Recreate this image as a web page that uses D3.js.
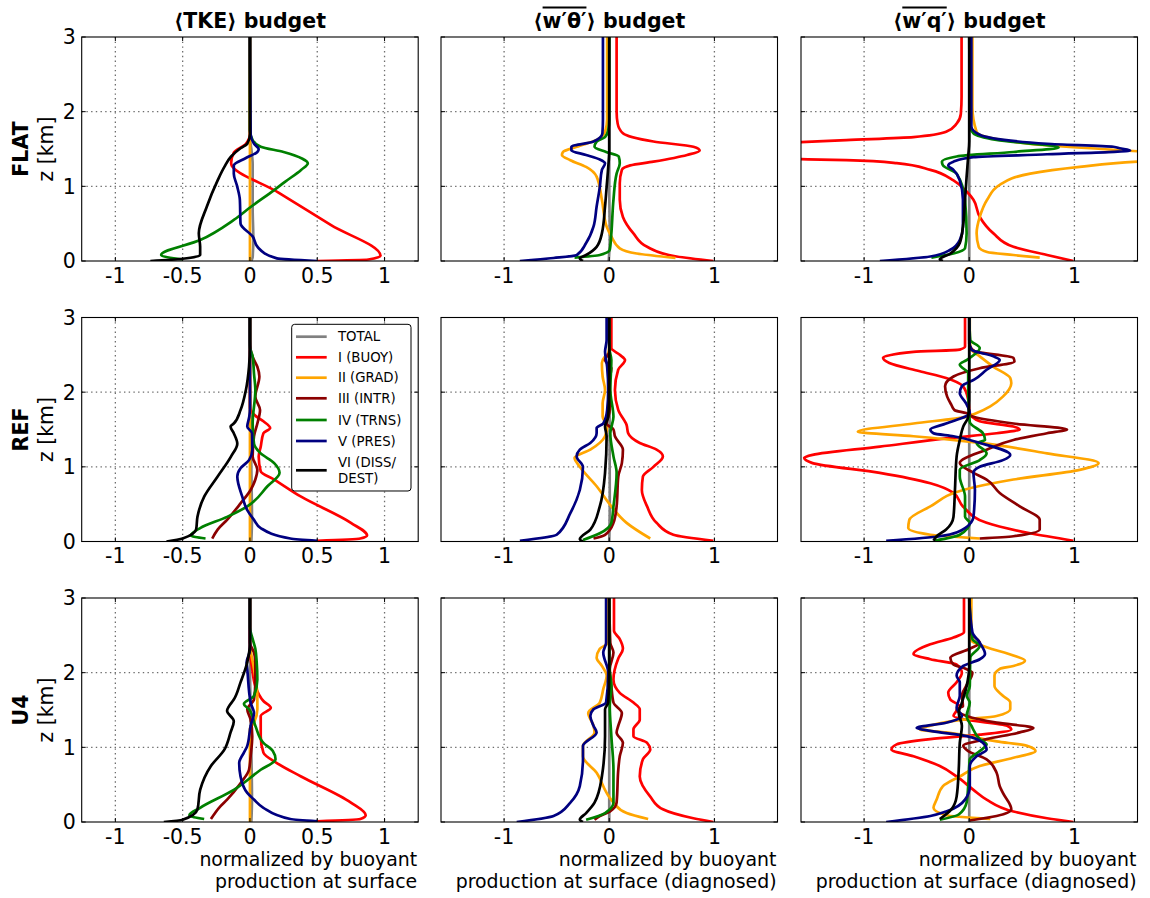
<!DOCTYPE html>
<html>
<head>
<meta charset="utf-8">
<script src="https://cdn.jsdelivr.net/npm/d3@7"></script>
<style>
  html, body { margin: 0; padding: 0; background: #fff; }
  svg { display: block; font-family: "DejaVu Sans", sans-serif; }
</style>
</head>
<body>
<svg id="chart" width="1150" height="898"></svg>
<script>
// ---------- series definitions ----------
const seriesKeys = ["total", "buoy", "grad", "intr", "trns", "pres", "diss"];
const seriesLabels = ["TOTAL", "I (BUOY)", "II (GRAD)", "III (INTR)", "IV (TRNS)", "V (PRES)", "VI (DISS/|DEST)"];
const seriesColors = ["#808080", "#ff0000", "#ffa500", "#8b0000", "#008000", "#000080", "#000000"];

// ---------- axis ticks ----------
const zTicks = [0, 1, 2, 3];
const zTickLabels = ["0", "1", "2", "3"];
const tkeTicks = [-1, -0.5, 0, 0.5, 1];
const tkeTickLabels = ["-1", "-0.5", "0", "0.5", "1"];
const fluxTicks = [-1, 0, 1];
const fluxTickLabels = ["-1", "0", "1"];
const tkeDomain = [-1.25, 1.25];
const fluxDomain = [-1.6, 1.6];
const zDomain = [0, 3];

const rowNames = ["FLAT", "REF", "U4"];

// ---------- profiles: [normalized value, z in km] ----------
// FLAT, TKE budget
const flatTkeTotal = [[0.01,0],[0.02,0.05],[0.025,0.3],[0.02,0.7],[0.02,1.0],[0.02,1.3],[0.01,1.5],[0,1.65],[0,3]];
const flatTkeBuoy = [[0.5,0],[0.88,0.02],[0.97,0.07],[0.603,0.48],[0.209,0.92],[-0.14,1.31],[-0.12,1.45],[-0.03,1.57],[0,1.7],[0,3]];
const flatTkeGrad = [[0,0],[0,3]];
const flatTkeTrns = [[-0.5,0.02],[-0.66,0.08],[-0.37,0.28],[-0.12,0.55],[0.01,0.73],[0.18,0.95],[0.26,1.06],[0.38,1.22],[0.43,1.31],[0.39,1.37],[0.25,1.46],[0.08,1.53],[0.02,1.62],[0,1.75],[0,3]];
const flatTkePres = [[0.5,0],[0.2,0.035],[0.06,0.18],[0.02,0.33],[-0.07,0.5],[-0.075,0.82],[-0.095,1.0],[-0.12,1.17],[-0.12,1.28],[-0.03,1.38],[0.055,1.46],[0.065,1.5],[0.03,1.57],[0.005,1.7],[0,3]];
const flatTkeDiss = [[-0.74,0],[-0.5,0.03],[-0.37,0.08],[-0.37,0.19],[-0.38,0.37],[-0.32,0.73],[-0.24,1.08],[-0.19,1.26],[-0.14,1.4],[-0.07,1.51],[-0.02,1.57],[0,1.7],[0,3]];

// FLAT, w'theta' budget
const flatWtTotal = [[-0.005,0],[0.005,0.3],[0,1],[0,3]];
const flatWtBuoy = [[0.99,0],[0.64,0.06],[0.36,0.19],[0.23,0.37],[0.13,0.59],[0.1,0.82],[0.1,1.04],[0.12,1.22],[0.2,1.28],[0.42,1.33],[0.74,1.42],[0.86,1.48],[0.8,1.53],[0.42,1.6],[0.13,1.71],[0.08,1.84],[0.07,2.0],[0.07,3]];
const flatWtGrad = [[0.63,0.04],[0.26,0.1],[0.1,0.17],[0.02,0.33],[-0.025,0.46],[-0.07,0.82],[-0.12,1.13],[-0.22,1.26],[-0.37,1.35],[-0.45,1.42],[-0.44,1.46],[-0.31,1.53],[-0.12,1.62],[-0.04,1.73],[-0.02,1.9],[-0.02,3]];
const flatWtTrns = [[-0.33,0.045],[-0.09,0.08],[0.005,0.15],[0.02,0.37],[0.04,0.82],[0.07,1.17],[0.1,1.31],[0.09,1.4],[-0.03,1.46],[-0.14,1.53],[-0.12,1.6],[-0.04,1.66],[-0.01,1.75],[0,1.9],[0,3]];
const flatWtPres = [[-0.85,0],[-0.53,0.04],[-0.31,0.08],[-0.22,0.24],[-0.15,0.46],[-0.12,0.73],[-0.09,0.99],[-0.07,1.22],[-0.04,1.31],[-0.09,1.36],[-0.22,1.42],[-0.36,1.48],[-0.36,1.53],[-0.15,1.6],[-0.065,1.71],[-0.06,1.9],[-0.06,3]];
const flatWtDiss = [[-0.25,0],[-0.28,0.035],[-0.22,0.08],[-0.12,0.19],[-0.07,0.37],[-0.04,0.73],[-0.025,0.99],[-0.01,1.25],[0,1.48],[0,3]];

// FLAT, w'q' budget
const flatWqTotal = [[0,0],[0,3]];
const flatWqBuoy = [[0.99,0],[0.74,0.08],[0.42,0.19],[0.23,0.37],[0.1,0.59],[0.04,0.82],[-0.025,0.93],[-0.15,1.08],[-0.37,1.22],[-0.69,1.31],[-1.17,1.35],[-1.8,1.37],[-3,1.42],[-3,1.52],[-1.8,1.58],[-1.17,1.62],[-0.53,1.66],[-0.22,1.73],[-0.12,1.84],[-0.08,1.97],[-0.073,2.2],[-0.073,3]];
const flatWqGrad = [[0.67,0.045],[0.42,0.08],[0.17,0.12],[0.09,0.19],[0.07,0.37],[0.1,0.59],[0.17,0.82],[0.29,1.02],[0.58,1.17],[1.05,1.26],[1.6,1.33],[2.5,1.38],[2.5,1.44],[1.6,1.47],[1.37,1.49],[0.74,1.55],[0.17,1.66],[0.07,1.73],[0.03,2.06],[0.03,3]];
const flatWqTrns = [[-0.36,0.045],[-0.15,0.1],[-0.04,0.17],[-0.025,0.37],[-0.04,0.82],[-0.12,1.17],[-0.25,1.28],[-0.26,1.33],[-0.12,1.4],[0.42,1.46],[0.85,1.52],[0.26,1.62],[0.04,1.71],[0.01,1.8],[0,3]];
const flatWqPres = [[-0.85,0],[-0.37,0.06],[-0.18,0.15],[-0.09,0.28],[-0.06,0.46],[-0.06,0.82],[-0.09,1.08],[-0.15,1.22],[-0.2,1.28],[-0.15,1.33],[0.04,1.39],[0.74,1.43],[1.53,1.48],[1.43,1.51],[1.37,1.53],[0.74,1.57],[0.1,1.69],[0.02,1.8],[0.02,3]];
const flatWqDiss = [[-0.25,0],[-0.28,0.02],[-0.18,0.1],[-0.09,0.24],[-0.06,0.46],[-0.04,0.82],[-0.025,1.13],[-0.01,1.4],[0,1.6],[0,3]];

// REF, TKE budget
const refTkeTotal = [[0.01,0],[0.015,0.3],[0.01,1],[0.005,1.8],[0,2.5],[0,3]];
const refTkeBuoy = [[0.5,0.01],[0.82,0.04],[0.87,0.08],[0.75,0.25],[0.38,0.6],[0.18,0.83],[0.08,0.94],[0.065,1.14],[0.08,1.27],[0.1,1.45],[0.15,1.52],[0.1,1.61],[0.03,1.7],[0,1.8],[0,3]];
const refTkeGrad = [[0,0],[0,3]];
const refTkeIntr = [[-0.28,0.04],[-0.24,0.16],[-0.17,0.29],[-0.07,0.51],[0.005,0.69],[0.04,0.83],[0.055,0.96],[0.02,1.14],[0.03,1.41],[0.055,1.58],[0.075,1.76],[0.04,1.94],[0.07,2.21],[0.055,2.34],[0.02,2.47],[0.005,2.57],[0,2.7],[0,3]];
const refTkeTrns = [[-0.33,0.04],[-0.44,0.08],[-0.37,0.18],[-0.17,0.33],[-0.02,0.47],[0.13,0.74],[0.22,0.92],[0.18,1.05],[0.08,1.18],[0.03,1.31],[0.02,1.58],[0.04,2.03],[0.03,2.25],[0.02,2.48],[0,2.6],[0,3]];
const refTkePres = [[0.5,0.01],[0.3,0.04],[0.08,0.18],[0.03,0.29],[-0.02,0.42],[-0.057,0.6],[-0.094,0.87],[-0.07,0.98],[-0.007,1.09],[0.017,1.23],[0.015,1.45],[-0.02,1.54],[-0.005,1.67],[0,1.8],[0,3]];
const refTkeDiss = [[-0.62,0],[-0.5,0.04],[-0.4,0.16],[-0.39,0.33],[-0.34,0.6],[-0.24,0.87],[-0.14,1.14],[-0.094,1.31],[-0.12,1.45],[-0.144,1.54],[-0.12,1.58],[-0.07,1.76],[-0.03,2.03],[-0.007,2.34],[0,2.6],[0,3]];

// REF, w'theta' budget
const refWtTotal = [[0,0],[0.005,0.5],[0,3]];
const refWtBuoy = [[0.99,0.01],[0.61,0.09],[0.45,0.25],[0.36,0.47],[0.31,0.69],[0.32,0.87],[0.42,1.0],[0.51,1.14],[0.45,1.23],[0.29,1.32],[0.18,1.45],[0.165,1.56],[0.086,1.76],[0.054,2.03],[0.085,2.3],[0.15,2.43],[0.1,2.5],[0.02,2.59],[0.02,3]];
const refWtGrad = [[0.39,0.04],[0.165,0.25],[0.02,0.47],[-0.12,0.74],[-0.28,1.0],[-0.33,1.12],[-0.18,1.23],[-0.04,1.41],[-0.02,1.54],[-0.063,1.67],[-0.063,1.85],[-0.04,2.03],[-0.063,2.21],[-0.07,2.39],[-0.04,2.48],[-0.01,2.52],[0,2.6],[0,3]];
const refWtIntr = [[-0.15,0.04],[-0.04,0.09],[0.04,0.25],[0.07,0.47],[0.086,0.87],[0.12,1.05],[0.13,1.23],[0.054,1.41],[0.04,1.5],[-0.025,1.58],[0.005,1.76],[0.005,2.17],[0.02,2.32],[-0.04,2.43],[0.005,2.55],[0,2.7],[0,3]];
const refWtTrns = [[-0.25,0.02],[-0.09,0.11],[0.02,0.25],[0.04,0.47],[0.07,0.92],[0.04,1.14],[0.01,1.45],[0.04,1.67],[0.01,2.03],[0.02,2.43],[0,2.6],[0,3]];
const refWtPres = [[-0.85,0.01],[-0.5,0.09],[-0.37,0.38],[-0.28,0.69],[-0.25,1.0],[-0.31,1.14],[-0.28,1.23],[-0.18,1.32],[-0.12,1.45],[-0.12,1.52],[-0.057,1.58],[-0.02,1.76],[-0.01,2.03],[-0.02,2.34],[-0.04,2.54],[-0.025,2.7],[-0.025,3]];
const refWtDiss = [[-0.25,0],[-0.28,0.03],[-0.18,0.16],[-0.09,0.47],[-0.04,0.92],[-0.025,1.41],[-0.04,1.54],[-0.01,1.67],[0,2.03],[0,3]];

// REF, w'q' budget
const refWqTotal = [[0,0],[0,3]];
const refWqBuoy = [[0.99,0.01],[0.58,0.11],[0.165,0.25],[-0.06,0.47],[-0.15,0.65],[-0.37,0.78],[-0.85,0.92],[-1.49,1.05],[-1.57,1.12],[-1.49,1.16],[-0.85,1.27],[-0.22,1.38],[0.26,1.45],[0.48,1.5],[0.42,1.54],[0.1,1.61],[0.005,1.72],[-0.01,1.9],[-0.06,2.08],[-0.22,2.19],[-0.47,2.28],[-0.76,2.39],[-0.82,2.46],[-0.53,2.54],[-0.09,2.57],[-0.04,2.61],[-0.04,3]];
const refWqGrad = [[0.1,0.04],[-0.37,0.09],[-0.58,0.18],[-0.57,0.29],[-0.37,0.47],[-0.057,0.69],[0.42,0.83],[1.05,0.96],[1.23,1.05],[0.74,1.18],[0.1,1.32],[-0.53,1.41],[-1.06,1.47],[-0.53,1.58],[-0.03,1.67],[0.07,1.72],[0.2,1.81],[0.32,1.94],[0.4,2.12],[0.39,2.19],[0.23,2.34],[0.1,2.48],[0.02,2.57],[0.005,2.7],[0.005,3]];
const refWqIntr = [[0.1,0.04],[0.42,0.07],[0.67,0.16],[0.67,0.29],[0.48,0.47],[0.29,0.65],[0.165,0.83],[0.04,0.92],[-0.09,1.05],[0.165,1.23],[0.42,1.36],[0.74,1.45],[0.93,1.5],[0.42,1.58],[0.04,1.67],[-0.03,1.72],[-0.14,1.76],[-0.17,1.83],[-0.21,1.94],[-0.23,2.08],[-0.15,2.21],[0.1,2.32],[0.43,2.41],[0.42,2.46],[0.05,2.55],[0,2.65],[0,3]];
const refWqTrns = [[-0.33,0.01],[-0.09,0.09],[0.005,0.25],[-0.04,0.33],[-0.04,0.6],[-0.09,0.87],[-0.09,0.96],[0.1,1.09],[0.165,1.18],[0.07,1.32],[0.15,1.36],[0.13,1.45],[0.005,1.6],[-0.01,2.0],[-0.01,2.25],[-0.09,2.37],[-0.025,2.43],[0.1,2.59],[0.01,2.7],[0,3]];
const refWqPres = [[-0.79,0.01],[-0.28,0.07],[-0.04,0.18],[0.04,0.33],[0.054,0.69],[0.04,0.92],[0.1,1.0],[0.32,1.09],[0.39,1.16],[0.1,1.32],[-0.15,1.41],[-0.34,1.45],[-0.37,1.5],[-0.22,1.58],[0.005,1.72],[-0.03,1.85],[-0.09,1.99],[-0.07,2.08],[0.05,2.17],[0.165,2.3],[0.29,2.43],[0.23,2.48],[0.02,2.57],[0,2.7],[0,3]];
const refWqDiss = [[-0.34,0.01],[-0.31,0.07],[-0.22,0.16],[-0.15,0.33],[-0.136,0.69],[-0.12,1.14],[-0.09,1.36],[-0.057,1.54],[-0.01,1.67],[0,1.9],[0,3]];

// U4, TKE budget
const u4TkeTotal = [[0.01,0],[0.015,0.3],[0.01,1],[0,2.2],[0,3]];
const u4TkeBuoy = [[0.5,0.01],[0.82,0.04],[0.86,0.09],[0.75,0.26],[0.38,0.61],[0.2,0.79],[0.1,0.93],[0.08,1.15],[0.08,1.42],[0.155,1.53],[0.1,1.62],[0.04,1.82],[0.017,2.05],[0,2.3],[0,3]];
const u4TkeGrad = [[0,0],[0,1.25],[0.03,1.33],[0.055,1.51],[0.055,1.69],[0.03,2.05],[0,2.4],[0,3]];
const u4TkeIntr = [[-0.29,0.04],[-0.22,0.21],[-0.17,0.3],[-0.07,0.52],[-0.007,0.7],[0.005,0.88],[0.017,1.15],[0.005,1.37],[-0.02,1.51],[0.03,1.64],[0.04,1.87],[0.04,2.14],[0.03,2.27],[0,2.4],[0,3]];
const u4TkeTrns = [[-0.34,0.04],[-0.45,0.09],[-0.37,0.19],[-0.12,0.43],[0.08,0.7],[0.19,0.84],[0.17,0.95],[0.1,1.06],[0.04,1.29],[-0.007,1.51],[-0.045,1.58],[0.03,1.69],[0.055,1.91],[0.05,2.14],[0.04,2.32],[0.017,2.47],[0,2.6],[0,3]];
const u4TkePres = [[0.5,0.01],[0.3,0.04],[0.1,0.19],[0.03,0.3],[-0.02,0.39],[-0.07,0.61],[-0.08,0.79],[-0.045,0.93],[-0.02,1.02],[0.005,1.29],[0.03,1.46],[0.005,1.6],[-0.02,2.05],[-0.025,2.14],[0,2.3],[0,3]];
const u4TkeDiss = [[-0.64,0],[-0.5,0.03],[-0.39,0.17],[-0.37,0.43],[-0.29,0.75],[-0.19,0.97],[-0.144,1.2],[-0.12,1.35],[-0.17,1.49],[-0.156,1.55],[-0.12,1.64],[-0.07,1.87],[-0.02,2.14],[0,2.4],[0,3]];

// U4, w'theta' budget
const u4WtTotal = [[0,0],[0,3]];
const u4WtBuoy = [[0.99,0],[0.8,0.05],[0.51,0.17],[0.39,0.34],[0.29,0.61],[0.32,0.84],[0.39,0.97],[0.36,1.06],[0.23,1.15],[0.23,1.24],[0.29,1.37],[0.29,1.51],[0.23,1.6],[0.1,1.73],[0.04,1.91],[0.086,2.19],[0.13,2.32],[0.1,2.45],[0.045,2.56],[0.045,3]];
const u4WtGrad = [[0.37,0.04],[0.165,0.12],[0.04,0.26],[-0.025,0.39],[-0.12,0.66],[-0.25,0.88],[-0.25,1.02],[-0.14,1.2],[-0.15,1.29],[-0.2,1.46],[-0.09,1.6],[-0.057,1.78],[-0.025,1.96],[-0.07,2.09],[-0.12,2.2],[-0.09,2.32],[-0.01,2.4],[-0.01,3]];
const u4WtIntr = [[-0.14,0.03],[-0.09,0.08],[0.005,0.14],[0.07,0.26],[0.086,0.7],[0.1,0.88],[0.13,1.06],[0.07,1.2],[0.086,1.29],[0.12,1.46],[0.04,1.6],[0.02,1.82],[0.005,2.05],[0.04,2.27],[0.01,2.4],[0,3]];
const u4WtTrns = [[-0.22,0.03],[-0.04,0.12],[0.04,0.26],[0.04,0.7],[0.02,1.15],[0.005,1.55],[0.02,1.82],[0,2.1],[0,3]];
const u4WtPres = [[-0.88,0],[-0.53,0.08],[-0.37,0.26],[-0.28,0.48],[-0.25,0.84],[-0.25,1.02],[-0.12,1.2],[-0.15,1.29],[-0.18,1.42],[-0.15,1.51],[-0.03,1.6],[-0.01,2.0],[-0.057,2.27],[-0.03,2.4],[-0.03,3]];
const u4WtDiss = [[-0.25,0],[-0.28,0.03],[-0.22,0.12],[-0.14,0.26],[-0.07,0.61],[-0.04,1.15],[-0.04,1.51],[-0.01,1.6],[0,2.0],[0,3]];

// U4, w'q' budget
const u4WqTotal = [[0,0],[0,3]];
const u4WqBuoy = [[0.99,0],[0.74,0.05],[0.42,0.14],[0.165,0.3],[0.04,0.43],[-0.12,0.61],[-0.28,0.75],[-0.53,0.88],[-0.74,0.97],[-0.69,1.04],[-0.37,1.11],[0.1,1.17],[0.4,1.24],[0.36,1.29],[-0.03,1.37],[-0.15,1.42],[-0.12,1.49],[-0.09,1.55],[-0.18,1.64],[-0.2,1.73],[-0.12,1.87],[-0.07,2.0],[-0.12,2.11],[-0.37,2.18],[-0.53,2.25],[-0.37,2.38],[-0.15,2.47],[-0.05,2.54],[-0.05,3]];
const u4WqGrad = [[0.2,0.04],[-0.22,0.09],[-0.34,0.19],[-0.31,0.3],[-0.25,0.48],[-0.09,0.61],[0.1,0.75],[0.42,0.86],[0.63,0.95],[0.55,1.02],[0.26,1.08],[-0.22,1.2],[-0.47,1.24],[-0.37,1.29],[-0.057,1.37],[0.26,1.42],[0.39,1.51],[0.39,1.6],[0.32,1.69],[0.24,1.82],[0.24,1.96],[0.29,2.05],[0.42,2.09],[0.53,2.16],[0.42,2.23],[0.165,2.34],[0.02,2.43],[0.02,3]];
const u4WqIntr = [[0.005,0.02],[0.26,0.08],[0.4,0.17],[0.32,0.39],[0.29,0.48],[0.26,0.66],[0.165,0.84],[-0.01,0.95],[-0.057,1.02],[0.165,1.11],[0.48,1.2],[0.61,1.26],[0.26,1.33],[-0.025,1.42],[-0.12,1.51],[-0.06,1.55],[-0.07,1.69],[-0.03,1.82],[0.03,2.0],[-0.03,2.05],[-0.15,2.11],[-0.18,2.2],[0.005,2.32],[0.1,2.4],[0.01,2.54],[0,3]];
const u4WqTrns = [[-0.28,0.03],[-0.1,0.1],[-0.025,0.26],[-0.01,0.48],[0.005,0.84],[0.1,0.95],[0.165,1.04],[0.1,1.11],[0.02,1.29],[-0.025,1.42],[0.005,1.6],[-0.025,1.69],[0.005,1.82],[0.01,2.2],[0.1,2.36],[0.03,2.45],[0,3]];
const u4WqPres = [[-0.79,0],[-0.37,0.08],[-0.22,0.14],[-0.04,0.3],[0.005,0.48],[0.005,0.75],[0.07,0.88],[0.165,0.97],[0.13,1.06],[-0.025,1.15],[-0.37,1.22],[-0.5,1.26],[-0.22,1.33],[-0.07,1.42],[-0.12,1.53],[-0.09,1.69],[-0.09,1.87],[-0.12,1.96],[-0.057,2.09],[0.1,2.18],[0.15,2.25],[0.1,2.4],[0.03,2.54],[0,3]];
const u4WqDiss = [[-0.28,0.04],[-0.17,0.17],[-0.12,0.34],[-0.1,0.7],[-0.09,1.06],[-0.07,1.29],[-0.1,1.46],[-0.07,1.6],[-0.025,1.82],[0,2.1],[0,3]];

// ---------- panel table built from the arrays above ----------
const panels = [
  {row: 0, col: 0, series: {total: flatTkeTotal, buoy: flatTkeBuoy, grad: flatTkeGrad, trns: flatTkeTrns, pres: flatTkePres, diss: flatTkeDiss}},
  {row: 0, col: 1, series: {total: flatWtTotal, buoy: flatWtBuoy, grad: flatWtGrad, trns: flatWtTrns, pres: flatWtPres, diss: flatWtDiss}},
  {row: 0, col: 2, series: {total: flatWqTotal, buoy: flatWqBuoy, grad: flatWqGrad, trns: flatWqTrns, pres: flatWqPres, diss: flatWqDiss}},
  {row: 1, col: 0, series: {total: refTkeTotal, buoy: refTkeBuoy, grad: refTkeGrad, intr: refTkeIntr, trns: refTkeTrns, pres: refTkePres, diss: refTkeDiss}, legend: true},
  {row: 1, col: 1, series: {total: refWtTotal, buoy: refWtBuoy, grad: refWtGrad, intr: refWtIntr, trns: refWtTrns, pres: refWtPres, diss: refWtDiss}},
  {row: 1, col: 2, series: {total: refWqTotal, buoy: refWqBuoy, grad: refWqGrad, intr: refWqIntr, trns: refWqTrns, pres: refWqPres, diss: refWqDiss}},
  {row: 2, col: 0, series: {total: u4TkeTotal, buoy: u4TkeBuoy, grad: u4TkeGrad, intr: u4TkeIntr, trns: u4TkeTrns, pres: u4TkePres, diss: u4TkeDiss}},
  {row: 2, col: 1, series: {total: u4WtTotal, buoy: u4WtBuoy, grad: u4WtGrad, intr: u4WtIntr, trns: u4WtTrns, pres: u4WtPres, diss: u4WtDiss}},
  {row: 2, col: 2, series: {total: u4WqTotal, buoy: u4WqBuoy, grad: u4WqGrad, intr: u4WqIntr, trns: u4WqTrns, pres: u4WqPres, diss: u4WqDiss}}
];

// ---------- layout ----------
const colLeft = [81.7, 441, 801];
const rowTop = [37, 317.5, 598];
const panelW = 336.5;
const panelH = 224;
const tickFont = 20.5;

const svg = d3.select("#chart");
const defs = svg.append("defs");

panels.forEach((p, i) => {
  const x0 = colLeft[p.col], y0 = rowTop[p.row];
  const isTke = p.col === 0;
  const x = d3.scaleLinear().domain(isTke ? tkeDomain : fluxDomain).range([0, panelW]);
  const y = d3.scaleLinear().domain(zDomain).range([panelH, 0]);
  const xt = isTke ? tkeTicks : fluxTicks;
  const xtl = isTke ? tkeTickLabels : fluxTickLabels;

  const g = svg.append("g").attr("transform", `translate(${x0},${y0})`);

  // dotted grid
  const grid = g.append("g").attr("stroke", "#6e6e6e").attr("stroke-width", 1.3)
    .attr("stroke-dasharray", "1.4,3.3").attr("fill", "none");
  xt.forEach(v => grid.append("line").attr("x1", x(v)).attr("x2", x(v)).attr("y1", 0).attr("y2", panelH));
  zTicks.filter(v => v > zDomain[0] && v < zDomain[1])
    .forEach(v => grid.append("line").attr("x1", 0).attr("x2", panelW).attr("y1", y(v)).attr("y2", y(v)));

  // profiles
  const clipId = "clip" + i;
  defs.append("clipPath").attr("id", clipId)
    .append("rect").attr("x", 0).attr("y", 0).attr("width", panelW).attr("height", panelH);
  const line = d3.line().x(d => x(d[0])).y(d => y(d[1])).curve(d3.curveMonotoneY);
  const lg = g.append("g").attr("clip-path", `url(#${clipId})`);
  seriesKeys.forEach((k, si) => {
    const data = p.series[k];
    if (!data) return;
    lg.append("path").datum(data).attr("d", line)
      .attr("fill", "none").attr("stroke", seriesColors[si])
      .attr("stroke-width", 2.7).attr("stroke-linejoin", "round").attr("stroke-linecap", "butt");
  });

  // frame and inward ticks
  g.append("rect").attr("width", panelW).attr("height", panelH)
    .attr("fill", "none").attr("stroke", "#000").attr("stroke-width", 1.1);
  const tk = g.append("g").attr("stroke", "#000").attr("stroke-width", 1);
  const tl = 4;
  xt.forEach(v => {
    tk.append("line").attr("x1", x(v)).attr("x2", x(v)).attr("y1", panelH).attr("y2", panelH - tl);
    tk.append("line").attr("x1", x(v)).attr("x2", x(v)).attr("y1", 0).attr("y2", tl);
  });
  zTicks.forEach(v => {
    tk.append("line").attr("x1", 0).attr("x2", tl).attr("y1", y(v)).attr("y2", y(v));
    tk.append("line").attr("x1", panelW).attr("x2", panelW - tl).attr("y1", y(v)).attr("y2", y(v));
  });

  // x tick labels
  xt.forEach((v, j) => {
    g.append("text").attr("x", x(v)).attr("y", panelH + 21.5)
      .attr("text-anchor", "middle").attr("font-size", tickFont).attr("fill", "#000").text(xtl[j]);
  });

  // z tick labels and row labels on the first column
  if (p.col === 0) {
    zTicks.forEach((v, j) => {
      g.append("text").attr("x", -6).attr("y", y(v)).attr("dy", "0.36em")
        .attr("text-anchor", "end").attr("font-size", tickFont).attr("fill", "#000").text(zTickLabels[j]);
    });
    const cy = y0 + panelH / 2;
    svg.append("text").attr("transform", `translate(27.5,${cy}) rotate(-90)`)
      .attr("text-anchor", "middle").attr("font-size", 20.5).attr("font-weight", "bold").text(rowNames[p.row]);
    svg.append("text").attr("transform", `translate(53,${cy}) rotate(-90)`)
      .attr("text-anchor", "middle").attr("font-size", 20.5).text("z [km]");
  }

  // legend
  if (p.legend) {
    const lgX = 291.7 - x0, lgY = 324.3 - y0;
    const leg = g.append("g").attr("transform", `translate(${lgX},${lgY})`);
    leg.append("rect").attr("width", 119.3).attr("height", 166.7).attr("rx", 3)
      .attr("fill", "#fff").attr("stroke", "#000").attr("stroke-width", 1);
    const rowY = [12.4, 33, 53.4, 74, 95.7, 116.7, 146];
    seriesKeys.forEach((k, si) => {
      const ly = rowY[si];
      leg.append("line").attr("x1", 4.3).attr("x2", 35).attr("y1", ly).attr("y2", ly)
        .attr("stroke", seriesColors[si]).attr("stroke-width", 2.7);
      const parts = seriesLabels[si].split("|");
      const t = leg.append("text").attr("x", 46.3).attr("font-size", 13.3).attr("fill", "#000");
      if (parts.length === 1) {
        t.attr("y", ly).attr("dy", "0.36em").text(parts[0]);
      } else {
        t.append("tspan").attr("x", 46.3).attr("y", ly - 8.3).attr("dy", "0.36em").text(parts[0]);
        t.append("tspan").attr("x", 46.3).attr("y", ly + 8.3).attr("dy", "0.36em").text(parts[1]);
      }
    });
  }
});

// ---------- column titles ----------
const titleBaseline = 28;
const titleSize = 20.5;
function colCenter(c) { return colLeft[c] + panelW / 2; }

svg.append("text").attr("x", colCenter(0)).attr("y", titleBaseline)
  .attr("text-anchor", "middle").attr("font-size", titleSize).attr("font-weight", "bold")
  .text("\u27E8TKE\u27E9 budget");

function fluxTitle(c, inner) {
  const t = svg.append("text").attr("x", colCenter(c)).attr("y", titleBaseline)
    .attr("text-anchor", "middle").attr("font-size", titleSize).attr("font-weight", "bold")
    .text("\u27E8" + inner + "\u27E9 budget");
  const node = t.node();
  const start = node.getStartPositionOfChar(1).x;
  const end = node.getEndPositionOfChar(inner.length).x;
  svg.append("line").attr("x1", start).attr("x2", end)
    .attr("y1", titleBaseline - 20.5).attr("y2", titleBaseline - 20.5)
    .attr("stroke", "#000").attr("stroke-width", 1.8);
}
fluxTitle(1, "w\u2032\u03B8\u2032");
fluxTitle(2, "w\u2032q\u2032");

// ---------- bottom axis notes ----------
const notes = [
  ["normalized by buoyant", "production at surface"],
  ["normalized by buoyant", "production at surface (diagnosed)"],
  ["normalized by buoyant", "production at surface (diagnosed)"]
];
notes.forEach((lines, c) => {
  const xr = colLeft[c] + panelW - 1;
  lines.forEach((s, j) => {
    svg.append("text").attr("x", xr).attr("y", 866 + j * 22)
      .attr("text-anchor", "end").attr("font-size", 18.9).attr("fill", "#000").text(s);
  });
});
</script>
</body>
</html>
